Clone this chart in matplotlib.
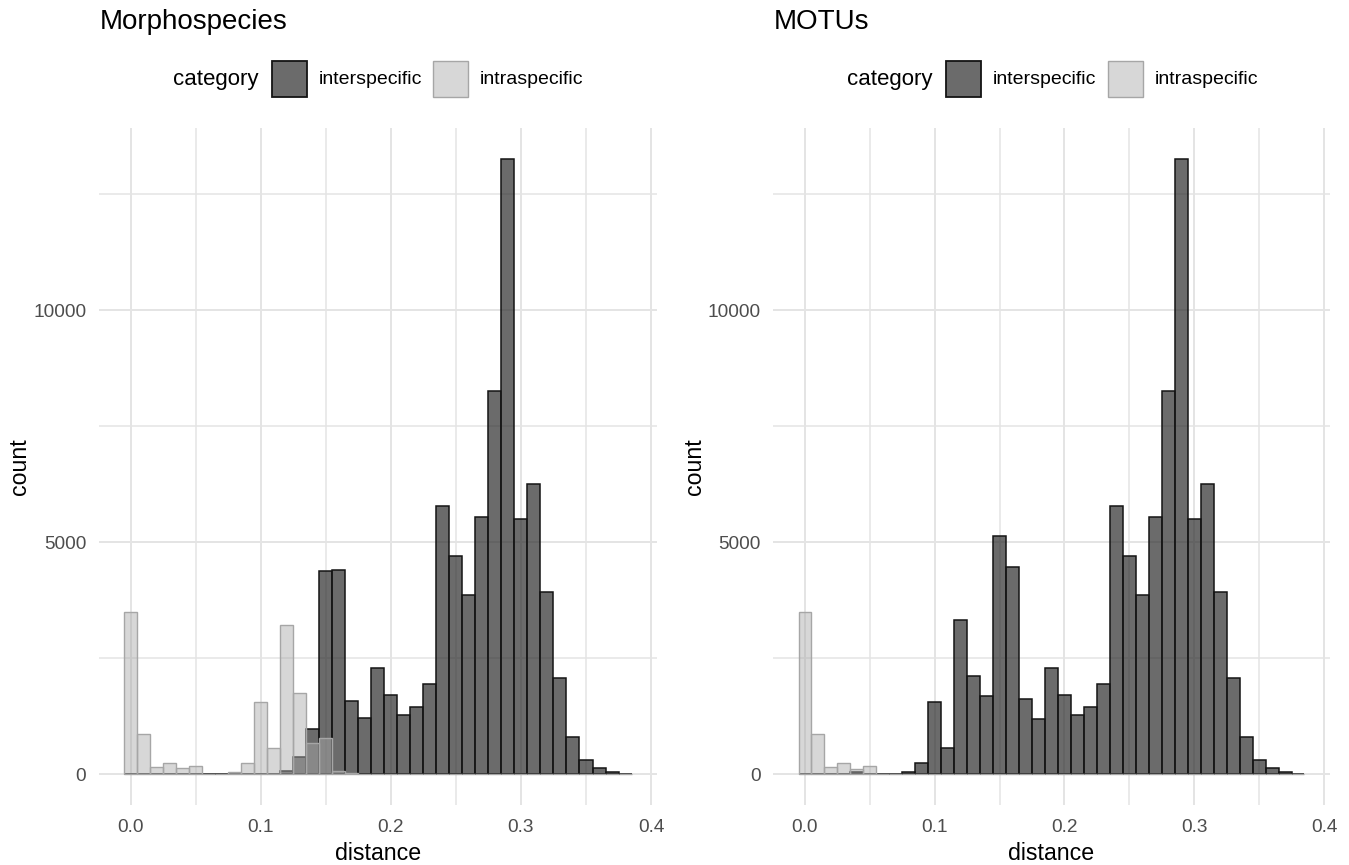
import matplotlib
matplotlib.use("Agg")
import matplotlib.pyplot as plt
from matplotlib.patches import Rectangle
import numpy as np

plt.rcParams['font.family'] = ['Liberation Sans', 'DejaVu Sans']

# ---------------- data ----------------
distance = [round(0.01 * i, 2) for i in range(39)]  # bin centres 0.00 .. 0.38

morpho_inter = [0, 0, 0, 0, 0, 0, 0, 0, 0, 0,
                0, 0, 71, 373, 970, 4368, 4397, 1573, 1200, 2278,
                1703, 1272, 1437, 1940, 5769, 4698, 3858, 5532, 8261, 13254,
                5502, 6244, 3922, 2075, 804, 302, 129, 37, 5]
morpho_intra = [3485, 869, 157, 237, 129, 166, 0, 0, 37, 237,
                1545, 567, 3218, 1739, 675, 769, 65, 30, 0, 0,
                0, 0, 0, 0, 0, 0, 0, 0, 0, 0,
                0, 0, 0, 0, 0, 0, 0, 0, 0]

motu_inter = [0, 0, 0, 0, 43, 0, 0, 0, 43, 244,
              1545, 567, 3319, 2112, 1681, 5136, 4468, 1610, 1192, 2278,
              1703, 1272, 1437, 1940, 5769, 4698, 3858, 5532, 8261, 13254,
              5502, 6244, 3922, 2075, 804, 302, 129, 37, 5]
motu_intra = [3485, 869, 157, 237, 101, 166, 0, 0, 0, 0,
              0, 0, 0, 0, 0, 0, 0, 0, 0, 0,
              0, 0, 0, 0, 0, 0, 0, 0, 0, 0,
              0, 0, 0, 0, 0, 0, 0, 0, 0]

panel_titles = ["Morphospecies", "MOTUs"]
categories = ["interspecific", "intraspecific"]
x_ticks = [0.0, 0.1, 0.2, 0.3, 0.4]
x_ticklabels = ["0.0", "0.1", "0.2", "0.3", "0.4"]
y_ticks = [0, 5000, 10000]
y_ticklabels = ["0", "5000", "10000"]

# ---------------- styling ----------------
W, H = 1349, 865
fig = plt.figure(figsize=(W / 100, H / 100), dpi=100)
fig.patch.set_facecolor("white")

def fx(px):
    return px / W

def fy(py):
    return 1 - py / H

inter_fill = (0.18, 0.18, 0.18, 0.71)
inter_edge = "#141414"
intra_fill = (0.667, 0.667, 0.667, 0.47)
intra_edge = "#a6a6a6"
grid_col = "#e4e4e4"
tick_col = "#4d4d4d"

binw = 0.01
panels = [
    (98.8, 656.9, morpho_inter, morpho_intra),
    (773.2, 1329.8, motu_inter, motu_intra),
]
top_px, bot_px = 128.3, 804.8

for k, (l, r, inter, intra) in enumerate(panels):
    ax = fig.add_axes([fx(l), fy(bot_px), fx(r - l), (bot_px - top_px) / H])
    ax.set_facecolor("white")
    ax.set_xlim(-0.0245, 0.4045)
    ax.set_ylim(-663, 13917)
    for s in ax.spines.values():
        s.set_visible(False)
    # grid
    for xv in np.arange(0.0, 0.401, 0.05):
        ax.axvline(xv, color=grid_col, lw=1.4 if abs((xv * 10) - round(xv * 10)) < 1e-6 else 1.1, zorder=0)
    for yv in [0, 2500, 5000, 7500, 10000, 12500]:
        ax.axhline(yv, color=grid_col, lw=1.4 if yv % 5000 == 0 else 1.1, zorder=0)
    ax.bar(distance, inter, width=binw, color=inter_fill, edgecolor=inter_edge,
           linewidth=1.1, zorder=2)
    ax.bar(distance, intra, width=binw, color=intra_fill, edgecolor=intra_edge,
           linewidth=1.0, zorder=3)
    ax.set_xticks(x_ticks)
    ax.set_xticklabels(x_ticklabels)
    ax.set_yticks(y_ticks)
    ax.set_yticklabels(y_ticklabels)
    ax.tick_params(length=0, labelsize=13.7, labelcolor=tick_col, pad=9)
    ax.tick_params(axis="x", pad=10)

    # axis titles
    fig.text(fx((l + r) / 2), fy(853), "distance", ha="center", va="center", fontsize=16.7)
    fig.text(fx(l - 79), fy((top_px + bot_px) / 2), "count", ha="center", va="center",
             rotation=90, fontsize=16.7)

    # panel title
    fig.text(fx(l + 1), fy(22), panel_titles[k], ha="left", va="center", fontsize=20)

    # legend (manual, ggplot-style on top)
    off = l - 98.8
    ly = 79
    fig.text(fx(172.7 + off), fy(ly), "category", ha="left", va="center", fontsize=16)
    keys = [(271.7, 318.7, inter_fill, inter_edge, 1.3),
            (433.3, 480.0, intra_fill, intra_edge, 1.0)]
    for (kx, tx, fc, ec, lw), name in zip(keys, categories):
        fig.patches.append(Rectangle((fx(kx + off), fy(ly + 17.5)), fx(35), 35 / H,
                                     transform=fig.transFigure, facecolor=fc,
                                     edgecolor=ec, linewidth=lw))
        fig.text(fx(tx + off), fy(ly), name, ha="left", va="center", fontsize=14)

fig.savefig("out.png", dpi=100, facecolor="white")
